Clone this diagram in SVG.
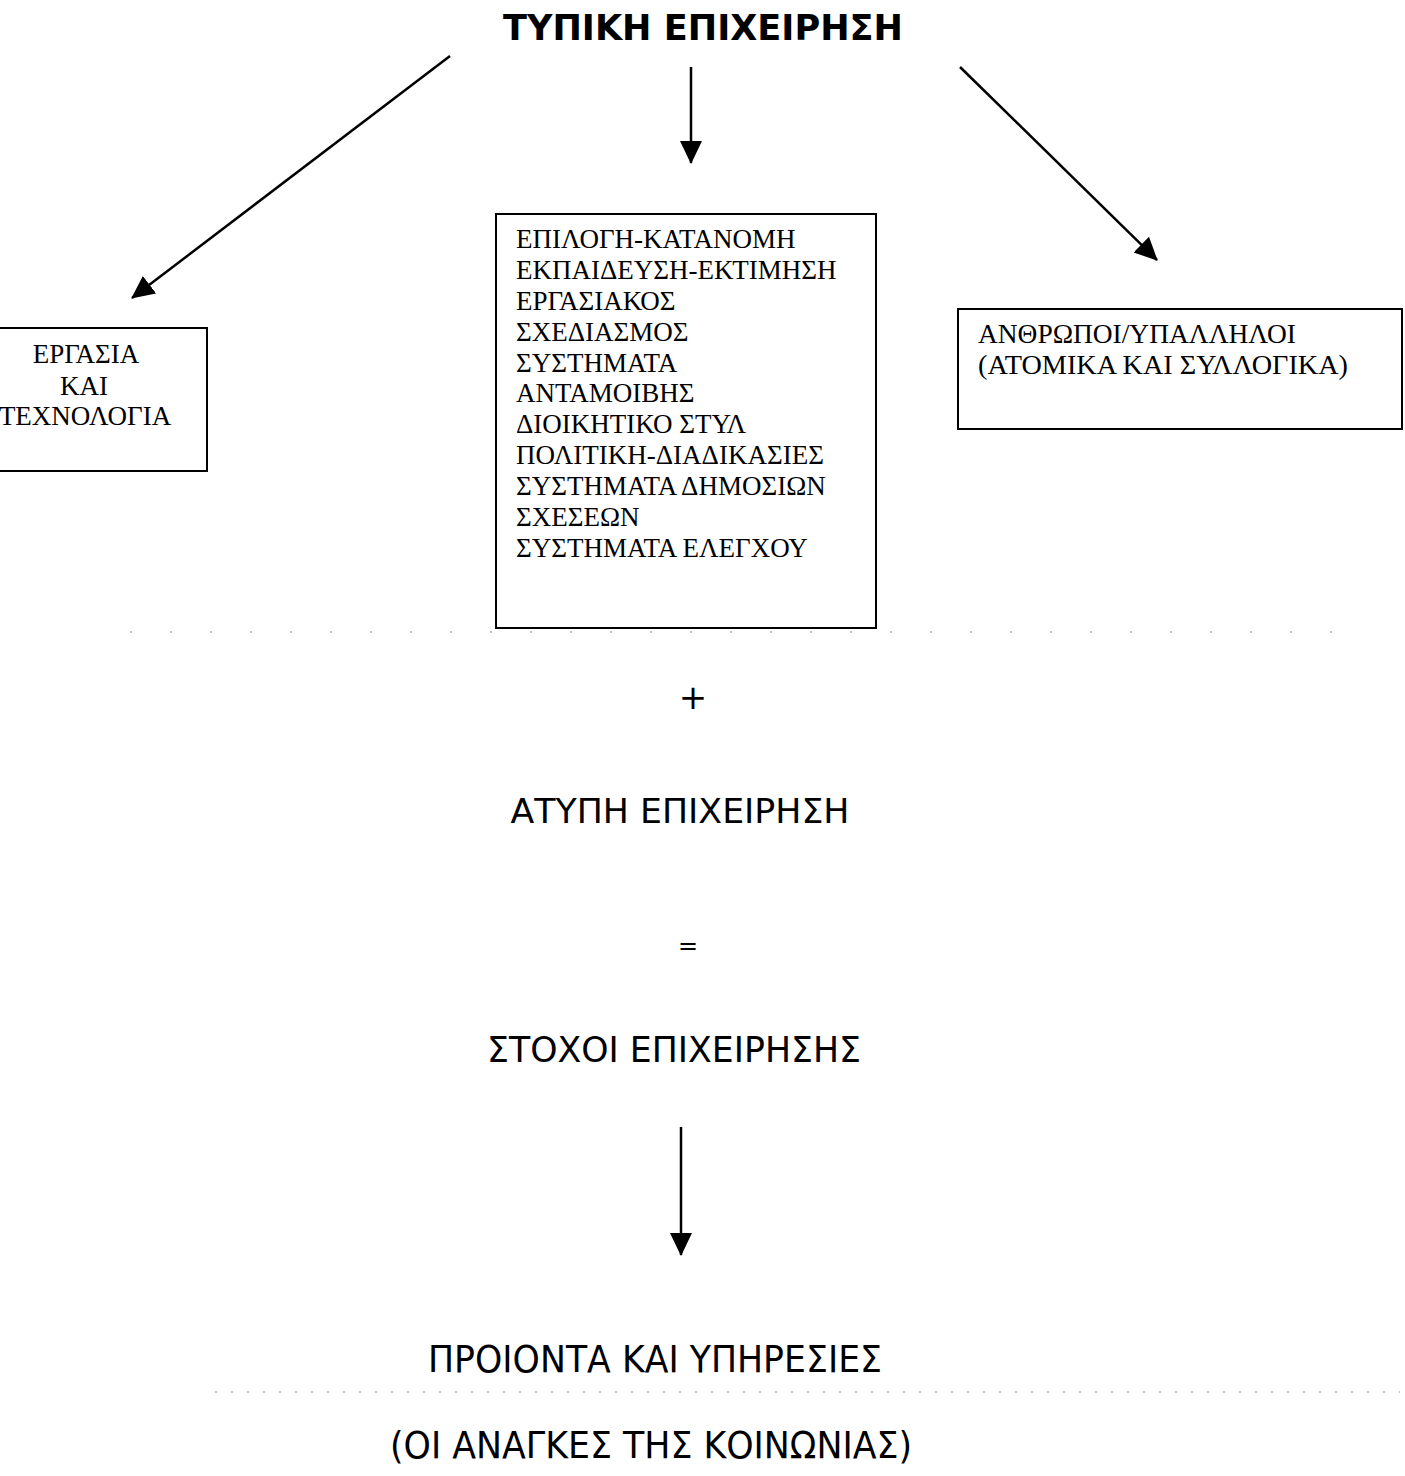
<svg xmlns="http://www.w3.org/2000/svg" width="1405" height="1476" viewBox="0 0 1405 1476">
<defs>
<style>
.sans{font-family:"DejaVu Sans","Liberation Sans",sans-serif;fill:#000}
.serif{font-family:"Liberation Serif","DejaVu Serif",serif;fill:#000;font-size:27px}
.box{fill:#fff;stroke:#000;stroke-width:2}
.conn{stroke:#000;stroke-width:2.5;fill:none;marker-end:url(#ah)}
.speck{stroke:#aaa;stroke-width:1.5;fill:none}
</style>
<marker id="ah" markerUnits="userSpaceOnUse" markerWidth="24" markerHeight="24" viewBox="0 0 24 24" refX="22" refY="12" orient="auto">
<path d="M0,1 L23,12 L0,23 Z" fill="#000"/>
</marker>
</defs>
<rect width="1405" height="1476" fill="#fff"/>
<g id="title">
<text class="sans" x="703" y="40" font-size="36" font-weight="bold" text-anchor="middle" textLength="400" lengthAdjust="spacingAndGlyphs">ΤΥΠΙΚΗ ΕΠΙΧΕΙΡΗΣΗ</text>
</g>
<g id="connectors">
<line class="conn" x1="450" y1="56" x2="132" y2="298"/>
<line class="conn" x1="691" y1="67" x2="691" y2="163"/>
<line class="conn" x1="960" y1="67" x2="1157" y2="260"/>
<line class="conn" x1="681" y1="1127" x2="681" y2="1255"/>
</g>
<g id="node-left">
<rect class="box" x="-10" y="328" width="217" height="143"/>
<text class="serif" x="86" y="363" text-anchor="middle">ΕΡΓΑΣΙΑ</text>
<text class="serif" x="84" y="395" text-anchor="middle">ΚΑΙ</text>
<text class="serif" x="85" y="425" text-anchor="middle">ΤΕΧΝΟΛΟΓΙΑ</text>
</g>
<g id="node-middle">
<rect class="box" x="496" y="214" width="380" height="414"/>
<text class="serif" x="516" y="248">ΕΠΙΛΟΓΗ-ΚΑΤΑΝΟΜΗ</text>
<text class="serif" x="516" y="279">ΕΚΠΑΙΔΕΥΣΗ-ΕΚΤΙΜΗΣΗ</text>
<text class="serif" x="516" y="310">ΕΡΓΑΣΙΑΚΟΣ</text>
<text class="serif" x="516" y="341">ΣΧΕΔΙΑΣΜΟΣ</text>
<text class="serif" x="516" y="372">ΣΥΣΤΗΜΑΤΑ</text>
<text class="serif" x="516" y="402">ΑΝΤΑΜΟΙΒΗΣ</text>
<text class="serif" x="516" y="433">ΔΙΟΙΚΗΤΙΚΟ ΣΤΥΛ</text>
<text class="serif" x="516" y="464">ΠΟΛΙΤΙΚΗ-ΔΙΑΔΙΚΑΣΙΕΣ</text>
<text class="serif" x="516" y="495">ΣΥΣΤΗΜΑΤΑ ΔΗΜΟΣΙΩΝ</text>
<text class="serif" x="516" y="526">ΣΧΕΣΕΩΝ</text>
<text class="serif" x="516" y="557">ΣΥΣΤΗΜΑΤΑ ΕΛΕΓΧΟΥ</text>
</g>
<g id="node-right">
<rect class="box" x="958" y="309" width="444" height="120"/>
<text class="serif" x="978" y="343" textLength="318" lengthAdjust="spacingAndGlyphs">ΑΝΘΡΩΠΟΙ/ΥΠΑΛΛΗΛΟΙ</text>
<text class="serif" x="978" y="374" textLength="370" lengthAdjust="spacingAndGlyphs">(ΑΤΟΜΙΚΑ ΚΑΙ ΣΥΛΛΟΓΙΚΑ)</text>
</g>
<g id="plus">
<text class="sans" x="693" y="709" font-size="34" text-anchor="middle">+</text>
</g>
<g id="informal">
<text class="sans" x="680" y="823" font-size="34" text-anchor="middle" textLength="339" lengthAdjust="spacingAndGlyphs">ΑΤΥΠΗ ΕΠΙΧΕΙΡΗΣΗ</text>
</g>
<g id="equals">
<text class="sans" x="688" y="954" font-size="24" text-anchor="middle">=</text>
</g>
<g id="goals">
<text class="sans" x="674" y="1062" font-size="36" text-anchor="middle" textLength="374" lengthAdjust="spacingAndGlyphs">ΣΤΟΧΟΙ ΕΠΙΧΕΙΡΗΣΗΣ</text>
</g>
<g id="products">
<text class="sans" x="655" y="1372" font-size="38" text-anchor="middle" textLength="454" lengthAdjust="spacingAndGlyphs">ΠΡΟΙΟΝΤΑ ΚΑΙ ΥΠΗΡΕΣΙΕΣ</text>
<text class="sans" x="651" y="1458" font-size="38" text-anchor="middle" textLength="522" lengthAdjust="spacingAndGlyphs">(ΟΙ ΑΝΑΓΚΕΣ ΤΗΣ ΚΟΙΝΩΝΙΑΣ)</text>
</g>
<g id="scan-specks">
<line class="speck" x1="130" y1="632" x2="1370" y2="632" stroke-dasharray="2 38"/>
<line class="speck" x1="215" y1="1392" x2="1400" y2="1392" stroke-dasharray="2 14"/>
</g>
</svg>
